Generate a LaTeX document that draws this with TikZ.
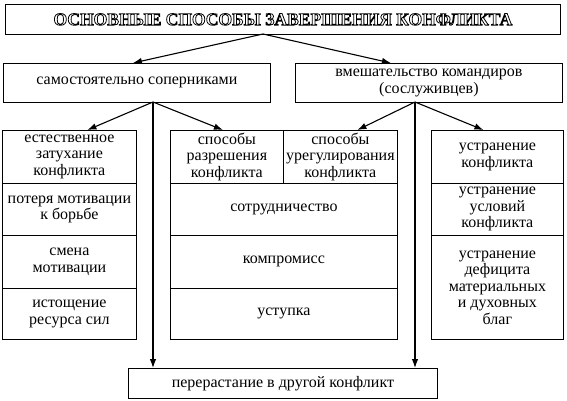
\documentclass[tikz,border=0pt]{standalone}
\usepackage{fontspec}
\setmainfont{Liberation Serif}
\usetikzlibrary{arrows.meta,calc}

\newcommand{\outlined}[1]{\special{pdf:code q 1 Tr 0.8 w}#1\special{pdf:code Q}}

\tikzset{
  cell/.style={draw, line width=0.8pt, align=center, inner sep=0pt, anchor=north west,
    font=\fontsize{16}{16.5}\selectfont},
  arr/.style={line width=1.1pt, -{Latex[length=9pt,width=6.5pt]}}
}

\begin{document}
\begin{tikzpicture}[x=1pt,y=-1pt]
\useasboundingbox (0,0) rectangle (567,401);

% title
\node[cell, minimum width=555, minimum height=30, font=\fontsize{17.5}{20}\bfseries] (title) at (5,4)
  {\outlined{ОСНОВНЫЕ СПОСОБЫ ЗАВЕРШЕНИЯ КОНФЛИКТА}};

% two ways
\node[cell, minimum width=267, minimum height=39] (sam) at (3,63) {самостоятельно соперниками};
\node[cell, minimum width=267, minimum height=39] (vm) at (295,63) {вмешательство командиров\\(сослуживцев)};

% left column
\node[cell, minimum width=134, minimum height=53] (e1) at (2,130) {естественное\\затухание\\конфликта};
\node[cell, minimum width=134, minimum height=52] (e2) at (2,183) {потеря мотивации\\к борьбе};
\node[cell, minimum width=134, minimum height=53] (e3) at (2,235) {смена\\мотивации};
\node[cell, minimum width=134, minimum height=51] (e4) at (2,288) {истощение\\ресурса сил};

% middle column
\node[cell, minimum width=113, minimum height=53] (m1) at (170,130) {способы\\разрешения\\конфликта};
\node[cell, minimum width=114, minimum height=53] (m2) at (283,130) {способы\\урегулирования\\конфликта};
\node[cell, minimum width=227, minimum height=52] (m3) at (170,183) {сотрудничество};
\node[cell, minimum width=227, minimum height=53] (m4) at (170,235) {компромисс};
\node[cell, minimum width=227, minimum height=51] (m5) at (170,288) {уступка};

% right column
\node[cell, minimum width=132, minimum height=53] (r1) at (431,130) {устранение\\конфликта};
\node[cell, minimum width=132, minimum height=52] (r2) at (431,183) {устранение\\условий\\конфликта};
\node[cell, minimum width=132, minimum height=104] (r3) at (431,235) {устранение\\дефицита\\материальных\\и духовных\\благ};

% bottom
\node[cell, minimum width=309, minimum height=30] (last) at (128,368) {перерастание в другой конфликт};

% arrows
\coordinate (ts) at (263,34);
\coordinate (ss) at (153,102);
\coordinate (vs) at (415,102);
\draw[arr] (ts) -- ($(sam.north)+(-4,0)$);
\draw[arr] (ts) -- ($(vm.north)+(-38,0)$);
\draw[arr] (ss) -- ($(e1.north)+(18,0)$);
\draw[arr] (ss) -- ($(m1.north)+(-4,0)$);
\draw[arr] (vs) -- ($(m2.north)+(17,0)$);
\draw[arr] (vs) -- ($(r1.north)+(-14,0)$);
\draw[arr] (ss) -- (ss |- last.north);
\draw[arr] (vs) -- (vs |- last.north);
\end{tikzpicture}
\end{document}
